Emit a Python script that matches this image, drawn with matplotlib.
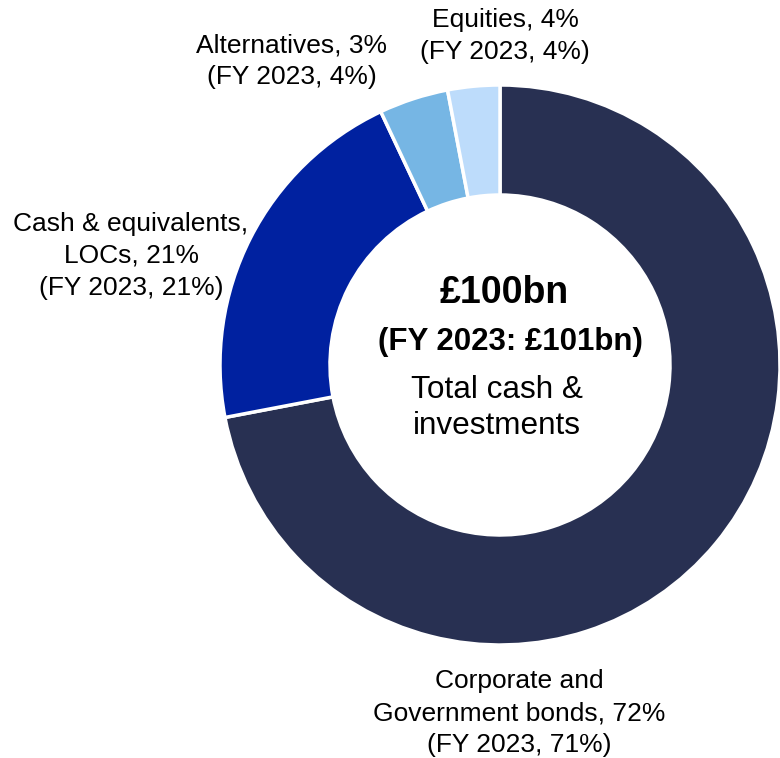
import matplotlib
matplotlib.use("Agg")
import matplotlib.pyplot as plt

plt.rcParams['font.family'] = ['Liberation Sans', 'DejaVu Sans']

# slices drawn clockwise from the top
categories = ["Corporate and Government bonds", "Cash & equivalents, LOCs",
              "Alternatives", "Equities"]
shares = [72, 21, 4, 3]
colors = ["#283052", "#0021a0", "#76b6e4", "#bddcfb"]

labels = [
    "Corporate and\nGovernment bonds, 72%\n(FY 2023, 71%)",
    "Cash & equivalents,\nLOCs, 21%\n(FY 2023, 21%)",
    "Alternatives, 3%\n(FY 2023, 4%)",
    "Equities, 4%\n(FY 2023, 4%)",
]
label_pos = [(519, 713), (131, 256), (292, 61), (505, 36)]

total = "£100bn"
total_prev = "(FY 2023: £101bn)"
total_caption = "Total cash &\ninvestments"

W, H = 780, 758
fig = plt.figure(figsize=(W / 100, H / 100), dpi=100)
ax = fig.add_axes([0, 0, 1, 1])

cx, cy = 500, H - 365
ax.pie(shares, colors=colors, startangle=90, counterclock=False,
       radius=280, center=(cx, cy),
       wedgeprops=dict(width=110, edgecolor="white", linewidth=2.5))

ax.set_xlim(0, W)
ax.set_ylim(0, H)
ax.set_aspect("equal")
ax.axis("off")

for txt, (x, y) in zip(labels, label_pos):
    ax.text(x, H - y, txt, ha="center", va="center", fontsize=19,
            linespacing=1.4, color="black")

ax.text(504, H - 293, total, ha="center", va="center", fontsize=27,
        fontweight="bold")
ax.text(510, H - 342, total_prev, ha="center", va="center", fontsize=22.5,
        fontweight="bold")
ax.text(497, H - 408, total_caption, ha="center", va="center", fontsize=22.7,
        linespacing=1.27)

fig.savefig("out.png", dpi=100)
